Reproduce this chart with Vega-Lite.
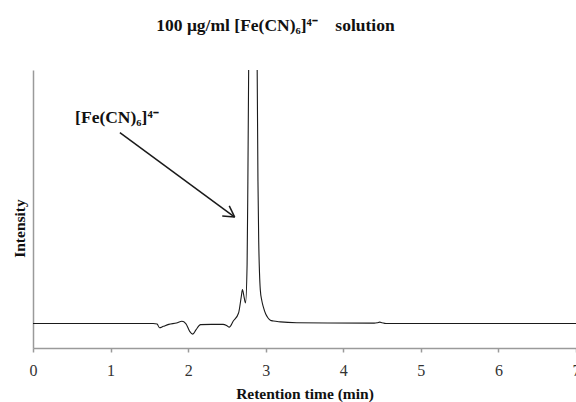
{
  "$schema": "https://vega.github.io/schema/vega-lite/v6.json",
  "width": 543,
  "height": 278,
  "autosize": {"type": "none"},
  "padding": {"left": 33, "top": 70, "right": 0, "bottom": 54},
  "background": "white",
  "title": {
    "text": "100 μg/ml [Fe(CN)₆]⁴⁻\u00a0\u00a0\u00a0\u00a0solution",
    "font": "Liberation Serif",
    "fontSize": 17.5,
    "fontWeight": "bold",
    "color": "#111",
    "anchor": "middle",
    "dx": -29,
    "offset": 36
  },
  "config": {
    "view": {"stroke": null},
    "axis": {"grid": false}
  },
  "datasets": {
    "trace": [
      {"t": 0, "v": 8.8}, {"t": 1.55, "v": 8.8}, {"t": 1.6, "v": 8.6}, {"t": 1.63, "v": 7.3},
      {"t": 1.68, "v": 7.8}, {"t": 1.75, "v": 8.5}, {"t": 1.85, "v": 9.0}, {"t": 1.92, "v": 9.6},
      {"t": 1.97, "v": 8.8}, {"t": 2.02, "v": 6.0}, {"t": 2.06, "v": 5.0}, {"t": 2.1, "v": 6.5},
      {"t": 2.16, "v": 8.4}, {"t": 2.3, "v": 8.5}, {"t": 2.45, "v": 8.5}, {"t": 2.5, "v": 8.0},
      {"t": 2.53, "v": 7.5}, {"t": 2.58, "v": 9.6}, {"t": 2.65, "v": 12.6}, {"t": 2.685, "v": 18.5},
      {"t": 2.70, "v": 21}, {"t": 2.72, "v": 18.5}, {"t": 2.74, "v": 16.2}, {"t": 2.76, "v": 30},
      {"t": 2.77, "v": 60}, {"t": 2.78, "v": 100}, {"t": 2.80, "v": 200}, {"t": 2.82, "v": 290},
      {"t": 2.84, "v": 320}, {"t": 2.86, "v": 280}, {"t": 2.88, "v": 160}, {"t": 2.89, "v": 100},
      {"t": 2.90, "v": 60}, {"t": 2.91, "v": 38}, {"t": 2.92, "v": 27}, {"t": 2.93, "v": 21},
      {"t": 2.95, "v": 17}, {"t": 2.97, "v": 14.7}, {"t": 3.0, "v": 12.2}, {"t": 3.03, "v": 10.8},
      {"t": 3.06, "v": 10.0}, {"t": 3.1, "v": 9.7}, {"t": 3.19, "v": 9.4}, {"t": 3.4, "v": 9.1},
      {"t": 3.8, "v": 9.0}, {"t": 4.4, "v": 8.95}, {"t": 4.44, "v": 9.1}, {"t": 4.47, "v": 9.3},
      {"t": 4.5, "v": 9.1}, {"t": 4.55, "v": 8.8}, {"t": 5.0, "v": 8.8}, {"t": 7.0, "v": 8.8}
    ],
    "arrow": [
      {"t": 1.12, "v": 77.5, "t2": 2.60, "v2": 47.1},
      {"t": 2.44, "v": 47.5, "t2": 2.60, "v2": 47.1},
      {"t": 2.53, "v": 51.1, "t2": 2.60, "v2": 47.1}
    ],
    "label": [
      {"t": 0.543, "v": 80.8, "text": "[Fe(CN)₆]⁴⁻"}
    ]
  },
  "layer": [
    {
      "data": {"name": "trace"},
      "mark": {"type": "line", "color": "#1a1a1a", "strokeWidth": 1.1, "interpolate": "monotone", "clip": true},
      "encoding": {
        "x": {
          "field": "t", "type": "quantitative",
          "scale": {"domain": [0, 7], "nice": false},
          "axis": {
            "values": [0, 1, 2, 3, 4, 5, 6, 7],
            "format": "d",
            "title": "Retention time (min)",
            "titleFont": "Liberation Serif", "titleFontSize": 15.5, "titleFontWeight": "bold", "titleColor": "#111",
            "titlePadding": 8,
            "labelFont": "Liberation Serif", "labelFontSize": 16, "labelColor": "#333", "labelPadding": 10,
            "labelFlush": false,
            "domainColor": "#9a9a9a", "domainWidth": 1.5,
            "tickColor": "#9a9a9a", "tickSize": 4, "tickWidth": 1.5
          }
        },
        "y": {
          "field": "v", "type": "quantitative",
          "scale": {"domain": [0, 100], "nice": false},
          "axis": {
            "title": "Intensity",
            "titleFont": "Liberation Serif", "titleFontSize": 15.5, "titleFontWeight": "bold", "titleColor": "#111",
            "titlePadding": 6, "titleY": 158,
            "labels": false, "ticks": false,
            "domainColor": "#9a9a9a", "domainWidth": 1.5
          }
        }
      }
    },
    {
      "data": {"name": "arrow"},
      "mark": {"type": "rule", "color": "#1a1a1a", "strokeWidth": 1.5},
      "encoding": {
        "x": {"field": "t", "type": "quantitative"},
        "y": {"field": "v", "type": "quantitative"},
        "x2": {"field": "t2"},
        "y2": {"field": "v2"}
      }
    },
    {
      "data": {"name": "label"},
      "mark": {"type": "text", "font": "Liberation Serif", "fontSize": 17.5, "fontWeight": "bold", "color": "#111", "align": "left", "baseline": "alphabetic"},
      "encoding": {
        "x": {"field": "t", "type": "quantitative"},
        "y": {"field": "v", "type": "quantitative"},
        "text": {"field": "text"}
      }
    }
  ]
}
